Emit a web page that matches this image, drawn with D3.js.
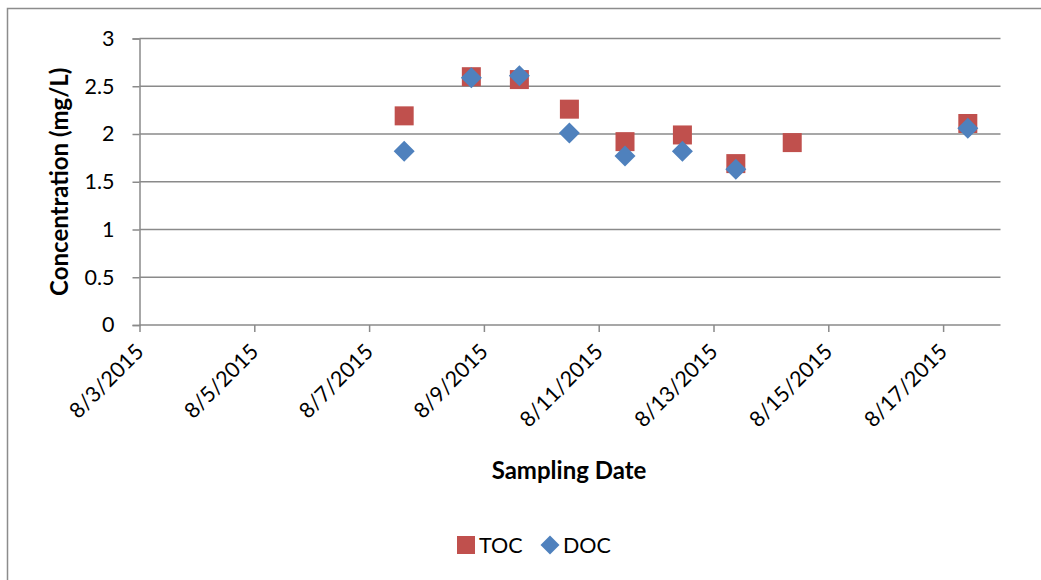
<!DOCTYPE html>
<html>
<head>
<meta charset="utf-8">
<script src="https://cdn.jsdelivr.net/npm/d3@7"></script>
<style>
  html, body { margin: 0; padding: 0; background: #fff; }
  svg { display: block; }
  text { font-family: Lato, "Open Sans", "Liberation Sans", sans-serif; fill: #000; }
</style>
</head>
<body>
<svg id="chart" width="1041" height="580"></svg>
<script>
// Sampling times (local) and measured concentrations (mg/L)
const tocDates = ["2015-08-07T14:40", "2015-08-08T18:45", "2015-08-09T14:50", "2015-08-10T11:45",
                  "2015-08-11T11:00", "2015-08-12T11:00", "2015-08-13T09:20", "2015-08-14T08:55",
                  "2015-08-17T10:20"];
const tocValues = [2.19, 2.60, 2.57, 2.26, 1.92, 1.99, 1.69, 1.91, 2.11];

const docDates = ["2015-08-07T14:40", "2015-08-08T18:45", "2015-08-09T14:50", "2015-08-10T11:45",
                  "2015-08-11T11:00", "2015-08-12T11:00", "2015-08-13T09:20", "2015-08-17T10:20"];
const docValues = [1.82, 2.59, 2.61, 2.01, 1.77, 1.82, 1.63, 2.06];

const xTickDates = ["2015-08-03", "2015-08-05", "2015-08-07", "2015-08-09",
                    "2015-08-11", "2015-08-13", "2015-08-15", "2015-08-17"];
const yTicks = [0, 0.5, 1, 1.5, 2, 2.5, 3];

const parse = d3.timeParse("%Y-%m-%dT%H:%M");
const parseDay = d3.timeParse("%Y-%m-%d");
const fmtTick = d => `${d.getMonth() + 1}/${d.getDate()}/${d.getFullYear()}`;

const svg = d3.select("#chart");
const plot = { left: 139.5, right: 1000.5, top: 38.5, bottom: 325 };
const labelSize = 21.5;
const titleSize = 24;

// Chart frame
svg.append("rect")
  .attr("x", 7.5).attr("y", 8.5).attr("width", 1100).attr("height", 700)
  .attr("fill", "none").attr("stroke", "#8c8c8c").attr("stroke-width", 1.5);

const x = d3.scaleTime()
  .domain([parseDay("2015-08-03"), parseDay("2015-08-18")])
  .range([plot.left, plot.right]);
const y = d3.scaleLinear().domain([0, 3]).range([plot.bottom, plot.top]);

// Horizontal gridlines
svg.append("g").selectAll("line").data(yTicks.filter(v => v > 0)).join("line")
  .attr("x1", plot.left).attr("x2", plot.right)
  .attr("y1", d => y(d)).attr("y2", d => y(d))
  .attr("stroke", "#8a8a8a").attr("stroke-width", 1.5);

// Y axis
const yAxis = svg.append("g").attr("transform", `translate(${plot.left},0)`)
  .call(d3.axisLeft(y).tickValues(yTicks).tickSize(7).tickPadding(18).tickFormat(d3.format("~g")));
yAxis.select(".domain").attr("stroke", "#8a8a8a").attr("stroke-width", 1.5);
yAxis.selectAll(".tick line").attr("stroke", "#8a8a8a").attr("stroke-width", 1.5);
yAxis.selectAll(".tick text").attr("font-size", labelSize).attr("font-family", "Lato, 'Open Sans', sans-serif").attr("fill", "#000");

// X axis
const xAxis = svg.append("g").attr("transform", `translate(0,${plot.bottom})`)
  .call(d3.axisBottom(x).tickValues(xTickDates.map(parseDay)).tickSize(7).tickFormat(fmtTick));
xAxis.select(".domain").attr("stroke", "#8a8a8a").attr("stroke-width", 1.5).attr("d", `M${plot.left},0H${plot.right}`);
xAxis.selectAll(".tick line").attr("stroke", "#8a8a8a").attr("stroke-width", 1.5);
xAxis.selectAll(".tick text")
  .attr("font-size", labelSize).attr("font-family", "Lato, 'Open Sans', sans-serif").attr("fill", "#000")
  .attr("text-anchor", "end").attr("dy", null).attr("y", 0)
  .attr("transform", "translate(5,28) rotate(-45)");

// Axis titles
svg.append("text")
  .attr("transform", `translate(68,${(plot.top + plot.bottom) / 2}) rotate(-90)`)
  .attr("text-anchor", "middle").attr("font-size", titleSize).attr("font-weight", "bold")
  .text("Concentration (mg/L)");
svg.append("text")
  .attr("x", 569).attr("y", 479).attr("text-anchor", "middle")
  .attr("font-size", titleSize).attr("font-weight", "bold")
  .text("Sampling Date");

const toc = tocDates.map((d, i) => ({ date: parse(d), value: tocValues[i] }));
const doc = docDates.map((d, i) => ({ date: parse(d), value: docValues[i] }));

const tocColor = "#C0504D";
const docColor = "#4F81BD";
const sq = 19;

// TOC squares
svg.append("g").selectAll("rect").data(toc).join("rect")
  .attr("x", d => x(d.date) - sq / 2).attr("y", d => y(d.value) - sq / 2)
  .attr("width", sq).attr("height", sq)
  .attr("fill", tocColor);

// DOC diamonds
const diamond = r => `M0,${-r}L${r},0L0,${r}L${-r},0Z`;
svg.append("g").selectAll("path").data(doc).join("path")
  .attr("transform", d => `translate(${x(d.date)},${y(d.value)})`)
  .attr("d", diamond(10.5))
  .attr("fill", docColor);

// Legend
const legend = svg.append("g");
legend.append("rect").attr("x", 457).attr("y", 536).attr("width", 18).attr("height", 18).attr("fill", tocColor);
legend.append("text").attr("x", 479).attr("y", 553).attr("font-size", labelSize).text("TOC");
legend.append("path").attr("transform", "translate(550,545)").attr("d", diamond(9.5)).attr("fill", docColor);
legend.append("text").attr("x", 563).attr("y", 553).attr("font-size", labelSize).text("DOC");
</script>
</body>
</html>
